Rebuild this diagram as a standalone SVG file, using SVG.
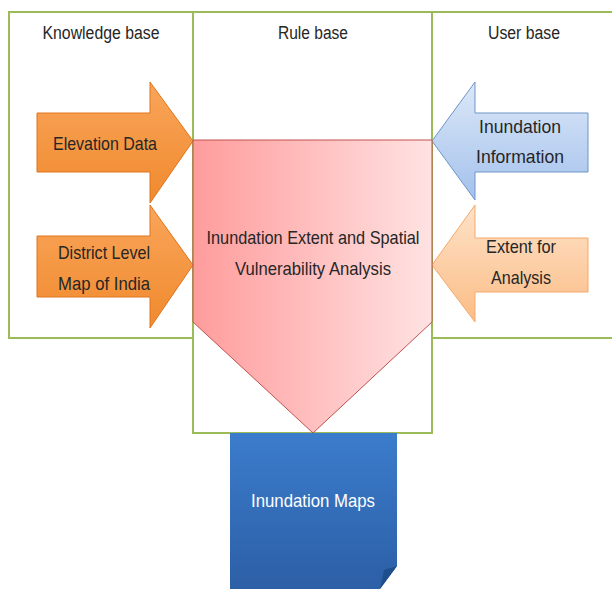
<svg xmlns="http://www.w3.org/2000/svg" width="612" height="589" viewBox="0 0 612 589">
<style>
.box{fill:#ffffff;stroke:#9bbb59;stroke-width:2}
.hdr{font-family:"Liberation Sans",Arial,sans-serif;font-size:18px;fill:#262626;text-anchor:middle}
.lbl{font-family:"Liberation Sans",Arial,sans-serif;font-size:19px;fill:#262626;text-anchor:middle}
.wlbl{font-family:"Liberation Sans",Arial,sans-serif;font-size:19px;fill:#ffffff;text-anchor:middle}
</style>
<defs>
<linearGradient id="gOrange" x1="0" y1="0" x2="0" y2="1">
<stop offset="0" stop-color="#f9a55a"/><stop offset="1" stop-color="#f08a2e"/>
</linearGradient>
<linearGradient id="gBlue" x1="0" y1="0" x2="0" y2="1">
<stop offset="0" stop-color="#dce8f8"/><stop offset="1" stop-color="#a3c1ec"/>
</linearGradient>
<linearGradient id="gPeach" x1="0" y1="0" x2="0" y2="1">
<stop offset="0" stop-color="#fee2c8"/><stop offset="1" stop-color="#fbbd86"/>
</linearGradient>
<linearGradient id="gRed" x1="0" y1="0" x2="1" y2="0">
<stop offset="0" stop-color="#ff9c9c"/><stop offset="1" stop-color="#ffe2e2"/>
</linearGradient>
<linearGradient id="gMaps" x1="0" y1="0" x2="0" y2="1">
<stop offset="0" stop-color="#3b7ccc"/><stop offset="1" stop-color="#2c5fa6"/>
</linearGradient>
</defs>
<g id="knowledge-base">
<rect class="box" x="9" y="12" width="184" height="326"/>
<text class="hdr" x="101" y="39" textLength="117" lengthAdjust="spacingAndGlyphs">Knowledge base</text>
</g>
<g id="user-base">
<rect class="box" x="432" y="12" width="190" height="326"/>
<text class="hdr" x="524" y="39" textLength="72" lengthAdjust="spacingAndGlyphs">User base</text>
</g>
<g id="rule-base">
<rect class="box" x="193" y="12" width="239" height="421"/>
<text class="hdr" x="313" y="39" textLength="70" lengthAdjust="spacingAndGlyphs">Rule base</text>
</g>
<g id="connectors">
<g id="elevation-data">
<path d="M37,113 H150 V82 L193,141 L150,203 V172 H37 Z" fill="url(#gOrange)" stroke="#e0741c" stroke-width="1"/>
<text class="lbl" x="105" y="150" textLength="104" lengthAdjust="spacingAndGlyphs">Elevation Data</text>
</g>
<g id="district-map">
<path d="M37,236 H150 V205 L193,265 L150,328 V297 H37 Z" fill="url(#gOrange)" stroke="#e0741c" stroke-width="1"/>
<text class="lbl" x="104" y="259" textLength="92" lengthAdjust="spacingAndGlyphs">District Level</text>
<text class="lbl" x="104" y="290" textLength="92" lengthAdjust="spacingAndGlyphs">Map of India</text>
</g>
<g id="inundation-information">
<path d="M588,113 H475 V82 L432,141 L475,200 V172 H588 Z" fill="url(#gBlue)" stroke="#6e95c9" stroke-width="1"/>
<text class="lbl" x="520" y="133" textLength="82" lengthAdjust="spacingAndGlyphs">Inundation</text>
<text class="lbl" x="520" y="163" textLength="88" lengthAdjust="spacingAndGlyphs">Information</text>
</g>
<g id="extent-analysis">
<path d="M588,238 H475 V205 L432,265 L475,322 V292 H588 Z" fill="url(#gPeach)" stroke="#f5a96a" stroke-width="1"/>
<text class="lbl" x="521" y="253" textLength="70" lengthAdjust="spacingAndGlyphs">Extent for</text>
<text class="lbl" x="521" y="284" textLength="60" lengthAdjust="spacingAndGlyphs">Analysis</text>
</g>
</g>
<g id="analysis">
<path d="M193,140 H432 V322 L313,433 L193,322 Z" fill="url(#gRed)" stroke="#c0504d" stroke-width="1"/>
<text class="lbl" x="313" y="244" textLength="213" lengthAdjust="spacingAndGlyphs">Inundation Extent and Spatial</text>
<text class="lbl" x="313" y="275" textLength="156" lengthAdjust="spacingAndGlyphs">Vulnerability Analysis</text>
</g>
<g id="inundation-maps">
<path d="M230,433 H397 V566 L380,589 H230 Z" fill="url(#gMaps)"/>
<path d="M397,566 L380,589 L384,570 Z" fill="#1f4e8c"/>
<text class="wlbl" x="313" y="507" textLength="124" lengthAdjust="spacingAndGlyphs">Inundation Maps</text>
</g>
</svg>
